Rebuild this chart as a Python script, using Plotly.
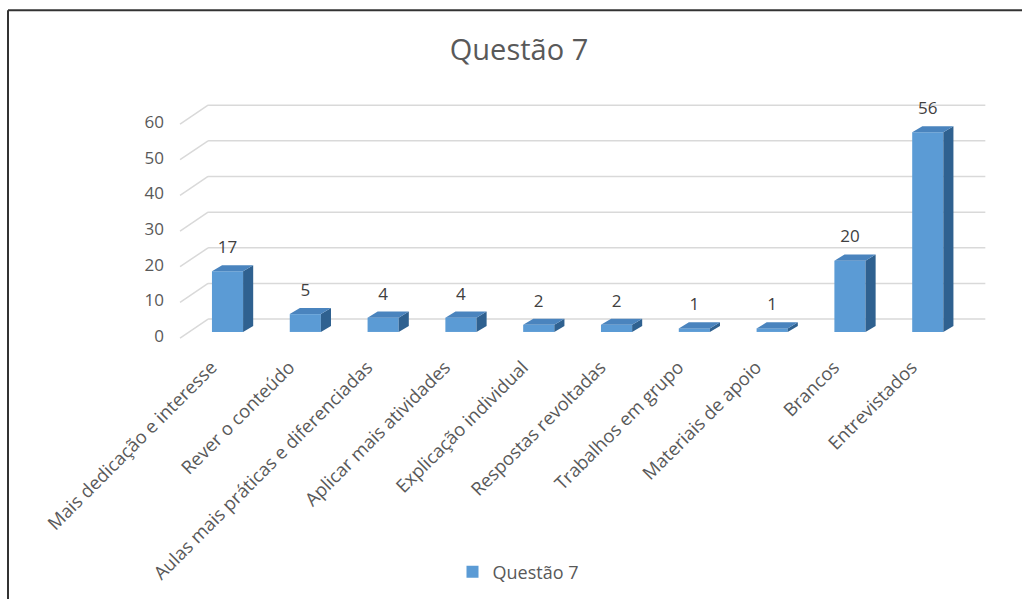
import plotly.graph_objects as go

categories = ["Mais dedicação e interesse", "Rever o conteúdo",
              "Aulas mais práticas e diferenciadas", "Aplicar mais atividades",
              "Explicação individual", "Respostas revoltadas", "Trabalhos em grupo",
              "Materiais de apoio", "Brancos", "Entrevistados"]
values = [17, 5, 4, 4, 2, 2, 1, 1, 20, 56]
y_ticks = [0, 10, 20, 30, 40, 50, 60]
series_name = "Questão 7"
title_text = "Questão 7"

W, H = 1022, 601
L, R, T, B = 175, 32, 95, 256
PW, PH = W - L - R, H - T - B

# pseudo-3D geometry (data units)
x_range = [-0.675, 9.80]
y_range = [-6.98, 62.85]
bar_w = 0.40
base_drop = 3.6      # front face sits below the back wall floor
depth_dx = 0.13      # bar depth (x shift)
depth_dy = 1.7       # bar depth (y shift)
label_lift = 2.2
wall_x0, wall_x1 = -0.25, 9.74
side_front_x = -0.61
side_drop = 5.3

front_col = "#5B9BD5"
top_col = "#4A84BE"
side_col = "#2F6190"
grid_col = "#D9D9D9"
text_col = "#595959"

def px2px(px):
    return (px - L) / PW

def py2py(py):
    return (T + PH - py) / PH

fig = go.Figure()

shapes = []
# back wall gridlines + side wall diagonals
for v in y_ticks:
    shapes.append(dict(type="line", xref="x", yref="y", x0=wall_x0, x1=wall_x1, y0=v, y1=v,
                       line=dict(color=grid_col, width=1.5), layer="below"))
    shapes.append(dict(type="line", xref="x", yref="y", x0=side_front_x, x1=wall_x0,
                       y0=v - side_drop, y1=v, line=dict(color=grid_col, width=1.5), layer="below"))

# front faces
fig.add_trace(go.Bar(x=list(range(len(values))), y=values, base=[-base_drop] * len(values),
                     width=bar_w, marker=dict(color=front_col, line=dict(width=0)),
                     name=series_name, showlegend=True))

# side and top faces
for i, v in enumerate(values):
    x0, x1 = i - bar_w / 2, i + bar_w / 2
    yb, yt = -base_drop, v - base_drop
    fig.add_trace(go.Scatter(x=[x1, x1, x1 + depth_dx, x1 + depth_dx, x1],
                             y=[yb, yt, yt + depth_dy, yb + depth_dy, yb],
                             fill="toself", fillcolor=side_col, mode="lines",
                             line=dict(width=0), showlegend=False, hoverinfo="skip"))
    fig.add_trace(go.Scatter(x=[x0, x1, x1 + depth_dx, x0 + depth_dx, x0],
                             y=[yt, yt, yt + depth_dy, yt + depth_dy, yt],
                             fill="toself", fillcolor=top_col, mode="lines",
                             line=dict(width=0), showlegend=False, hoverinfo="skip"))

# data labels
fig.add_trace(go.Scatter(x=list(range(len(values))),
                         y=[v - base_drop + depth_dy + label_lift for v in values],
                         mode="text", text=[str(v) for v in values], textposition="top center",
                         textfont=dict(size=17, color="#404040", family="Open Sans"),
                         showlegend=False, hoverinfo="skip"))

# outer frame (top and left only)
shapes.append(dict(type="line", xref="paper", yref="paper", x0=px2px(8), x1=px2px(1022),
                   y0=py2py(10), y1=py2py(10), line=dict(color="#333333", width=2)))
shapes.append(dict(type="line", xref="paper", yref="paper", x0=px2px(8), x1=px2px(8),
                   y0=py2py(10), y1=py2py(601), line=dict(color="#333333", width=2)))

fig.update_layout(
    width=W, height=H,
    margin=dict(l=L, r=R, t=T, b=B),
    paper_bgcolor="white", plot_bgcolor="white",
    font=dict(family="Open Sans", color=text_col),
    title=dict(text=title_text, x=519 / W, y=1 - 50 / H, xref="container", yref="container",
               xanchor="center", yanchor="middle",
               font=dict(size=29, color=text_col, family="Open Sans")),
    shapes=shapes,
    showlegend=True,
    legend=dict(orientation="h", x=px2px(518), y=py2py(572), xanchor="center", yanchor="middle",
                font=dict(size=18, color=text_col)),
    xaxis=dict(range=x_range, tickvals=list(range(len(categories))), ticktext=categories,
               tickangle=-45, showgrid=False, zeroline=False, showline=False, ticks="",
               ticklabelstandoff=8, ticklabelshift=-16,
               tickfont=dict(size=18.4, color=text_col), fixedrange=True),
    yaxis=dict(range=y_range, tickvals=y_ticks, showgrid=False, zeroline=False, showline=False,
               ticks="", ticklabelshift=17, ticklabelstandoff=10,
               tickfont=dict(size=17, color=text_col), fixedrange=True),
)

fig.write_html("out.html")
